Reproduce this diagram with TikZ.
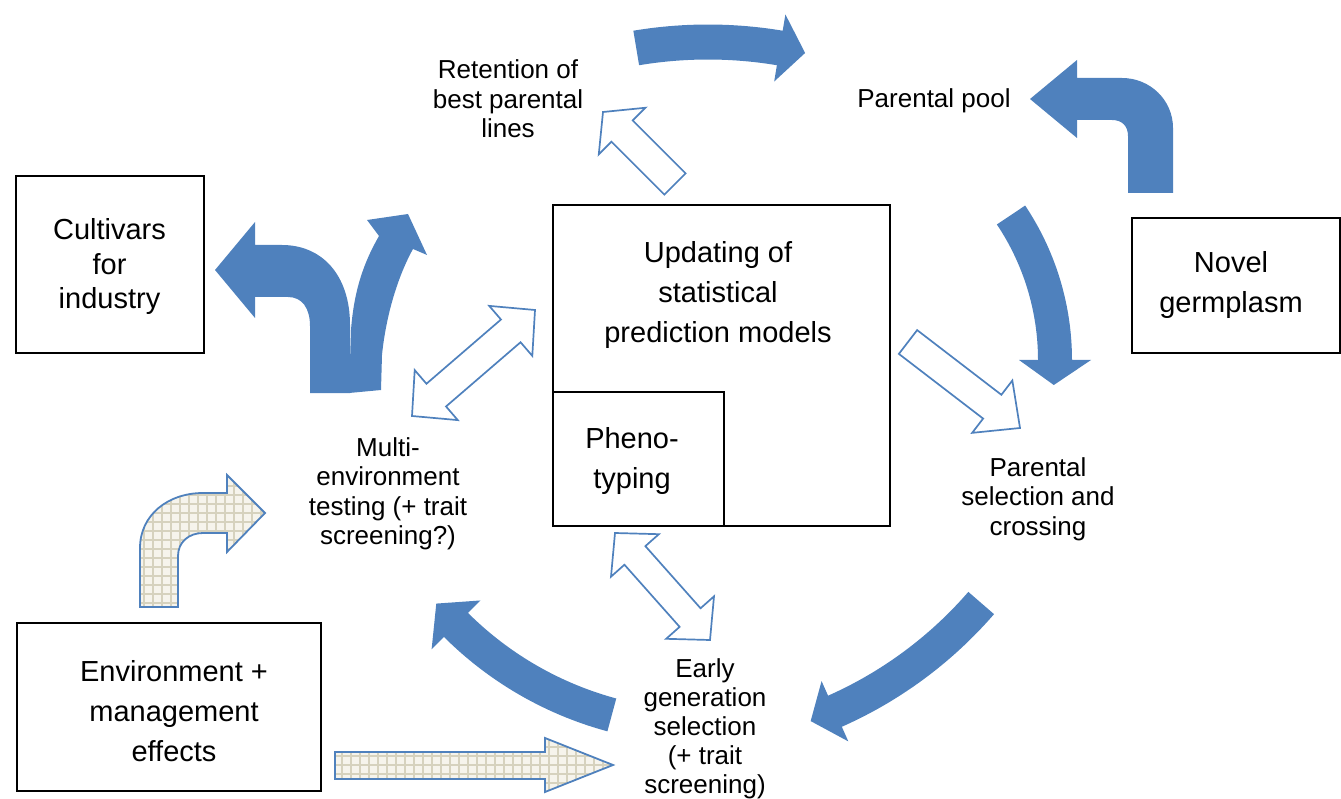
\documentclass[tikz,border=0pt]{standalone}
\usepackage{fontspec}
\setmainfont{Liberation Sans}
\usetikzlibrary{calc}

\definecolor{flowblue}{RGB}{79,129,189}
\definecolor{gridbg}{RGB}{246,244,236}
\definecolor{gridline}{RGB}{214,210,190}

\tikzset{
  box/.style={draw=black, line width=1.4pt, inner sep=0pt},
  bigtxt/.style={font=\fontsize{29}{40}\selectfont, align=center, inner sep=0pt},
  smalltxt/.style={font=\fontsize{26}{29.5}\selectfont, align=center, inner sep=0pt},
  solidarrow/.style={fill=flowblue},
  hollowarrow/.style={draw=flowblue, fill=white, line width=1.7pt, line join=miter},
  gridarrow/.style={draw=flowblue, line width=1.8pt, line join=miter,
    path picture={
      \fill[gridbg] (path picture bounding box.south west) rectangle (path picture bounding box.north east);
      \draw[gridline, line width=1.3pt, step=9pt] (path picture bounding box.south west) grid (path picture bounding box.north east);
    }},
}

% curved block arrow on a circle: centre (#1,#2), radius #3,
% tail angle #4, head-base angle #5, tip angle #6, half shaft #7, half head #8
\newcommand\arcarrow[8]{%
  \fill[solidarrow]
    plot[domain=#4:#5, samples=40] ({#1+(#3+#7)*cos(\x)},{#2+(#3+#7)*sin(\x)})
    -- ({#1+(#3+#8)*cos(#5)},{#2+(#3+#8)*sin(#5)})
    -- ({#1+#3*cos(#6)},{#2+#3*sin(#6)})
    -- ({#1+(#3-#8)*cos(#5)},{#2+(#3-#8)*sin(#5)})
    -- plot[domain=#5:#4, samples=40] ({#1+(#3-#7)*cos(\x)},{#2+(#3-#7)*sin(\x)})
    -- cycle;}

% outlined two-headed block arrow between tips #1 and #2
% head length #3, half head width #4, half shaft width #5
\newcommand\twowayarrow[5]{%
  \coordinate (#1-b) at ($(#1)!#3!(#2)$);
  \coordinate (#2-b) at ($(#2)!#3!(#1)$);
  \draw[hollowarrow] (#1)
    -- ($(#1-b)!#4!90:(#2)$) -- ($(#1-b)!#5!90:(#2)$)
    -- ($(#2-b)!#5!-90:(#1)$) -- ($(#2-b)!#4!-90:(#1)$)
    -- (#2)
    -- ($(#2-b)!#4!90:(#1)$) -- ($(#2-b)!#5!90:(#1)$)
    -- ($(#1-b)!#5!-90:(#2)$) -- ($(#1-b)!#4!-90:(#2)$)
    -- cycle;}

% outlined one-headed block arrow from tail #1 to tip #2
\newcommand\onewayarrow[5]{%
  \coordinate (#2-b) at ($(#2)!#3!(#1)$);
  \draw[hollowarrow] ($(#1)!#5!90:(#2)$)
    -- ($(#2-b)!#5!-90:(#1)$) -- ($(#2-b)!#4!-90:(#1)$)
    -- (#2)
    -- ($(#2-b)!#4!90:(#1)$) -- ($(#2-b)!#5!90:(#1)$)
    -- ($(#1)!#5!-90:(#2)$) -- cycle;}

\begin{document}
\begin{tikzpicture}[x=1pt, y=-1pt]
\useasboundingbox (0,0) rectangle (1341,799);

% ---- boxes
\node[box, minimum width=188, minimum height=177] (cultbox) at (110,264.5) {};
\node[box, minimum width=208, minimum height=135] (novelbox) at (1236,285.5) {};
\node[box, minimum width=304, minimum height=168] (envbox) at (169,707) {};
\node[box, minimum width=337, minimum height=321] (modelbox) at (721.5,365.5) {};
\node[box, minimum width=171, minimum height=134] (phenobox) at (638.5,459) {};

% ---- labels
\node[bigtxt, font=\fontsize{29}{34.5}\selectfont] (cult) at (109.5,267) {Cultivars\\for\\industry};
\node[bigtxt] (novel) at (1231,285) {Novel\\germplasm};
\node[bigtxt] (env) at (174,711) {Environment +\\management\\effects};
\node[bigtxt] (model) at (718,295) {Updating of\\statistical\\prediction models};
\node[bigtxt] (pheno) at (632,461) {Pheno-\\typing};
\node[smalltxt] (retain) at (508,99) {Retention of\\best parental\\lines};
\node[smalltxt] (pool) at (934,101) {Parental pool};
\node[smalltxt] (met) at (388,494) {Multi-\\environment\\testing (+ trait\\screening?)};
\node[smalltxt] (cross) at (1038,499) {Parental\\selection and\\crossing};
\node[smalltxt, font=\fontsize{26}{29}\selectfont] (early) at (705,729) {Early\\generation\\selection\\(+ trait\\screening)};

% ---- solid cycle arrows
\arcarrow{708}{477}{435}{-99.5}{-80.5}{-77.1}{17.5}{34}   % crossing -> pool (top)
\arcarrow{794}{360}{261}{-33.75}{0}{5.5}{17}{36}          % pool -> crossing (right)
\arcarrow{666}{330}{417}{40.9}{66.1}{69.7}{17}{33}        % crossing -> early
\arcarrow{703}{377}{350}{105.1}{134.9}{139.65}{17}{34.5}  % early -> testing

% novel germplasm into the parental pool
\fill[solidarrow] (1128,193) -- (1128,136) .. controls (1128,126) and (1122,120) .. (1112,120)
  -- (1077,120) -- (1077,138) -- (1030,99) -- (1077,60) -- (1077,78) -- (1122,78)
  .. controls (1150,78) and (1173,100) .. (1173,128) -- (1173,193) -- cycle;

% testing branches: to cultivars and back to retention
\fill[solidarrow] (310,393) -- (310,326) .. controls (310,308) and (302,297) .. (288,297)
  -- (255,297) -- (255,318) -- (215,270) -- (255,222) -- (255,245) -- (282,245)
  .. controls (322,245) and (350,275) .. (350,325) -- (350,393) -- cycle;
\fill[solidarrow] (349,393) -- (351,330) .. controls (354,290) and (364,262) .. (379,236)
  -- (367,220) -- (408,214) -- (427,255) -- (413,249)
  .. controls (398,276) and (386,315) .. (382,355) -- (381,390) -- cycle;

% ---- outlined exchange arrows with the model box
\coordinate (a1) at (412,416);
\coordinate (a2) at (535,310);
\twowayarrow{a1}{a2}{32pt}{33pt}{15pt}

\coordinate (b1) at (615,533);
\coordinate (b2) at (710,640);
\twowayarrow{b1}{b2}{30pt}{32pt}{14pt}

\coordinate (c1) at (675,184);
\coordinate (c2) at (603,112);
\onewayarrow{c1}{c2}{27pt}{33pt}{15pt}

\coordinate (d1) at (908,342);
\coordinate (d2) at (1020,428);
\onewayarrow{d1}{d2}{35pt}{33pt}{15pt}

% ---- environment effects (grid-filled arrows)
\draw[gridarrow] (140,607) -- (140,548) .. controls (140,515) and (168,493) .. (203,493)
  -- (227,493) -- (227,475) -- (265,513) -- (227,552) -- (227,533) -- (203,533)
  .. controls (189,533) and (178,542) .. (178,556) -- (178,607) -- cycle;
\draw[gridarrow] (335,752) -- (545,752) -- (545,738) -- (613,765) -- (545,792)
  -- (545,779) -- (335,779) -- cycle;
\end{tikzpicture}
\end{document}
